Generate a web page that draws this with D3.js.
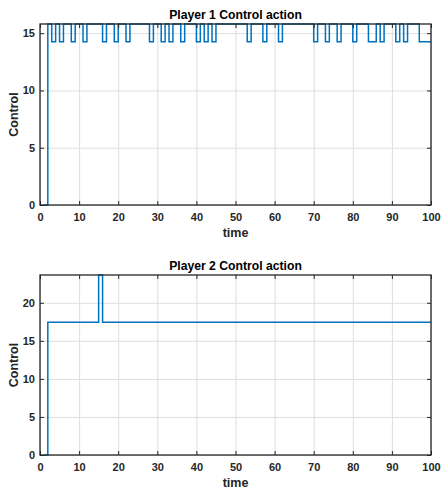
<!DOCTYPE html>
<html>
<head>
<meta charset="utf-8">
<script src="https://cdn.jsdelivr.net/npm/d3@7"></script>
<style>
  body { margin: 0; background: #fff; }
  text { font-family: "Liberation Sans", Arial, Helvetica, sans-serif; font-weight: bold; }
</style>
</head>
<body>
<div id="chart"></div>
<script>
// step data: each value holds from its time until the next time
const hi = 15.8, lo = 14.25
const p1Times  = [1, 2, 3, 4, 5, 6, 8, 9, 11, 12, 16, 17, 19, 20, 22, 23, 28, 29, 31, 32, 33, 34, 36, 37, 40, 41, 42, 43, 44, 45,
                  53, 54, 57, 58, 61, 62, 70, 71, 73, 74, 76, 77, 80, 81, 84, 86, 87, 88, 91, 92, 93, 94, 97, 100]
const p1Values = [0, hi, lo, hi, lo, hi, lo, hi, lo, hi, lo, hi, lo, hi, lo, hi, lo, hi, lo, hi, lo, hi, lo, hi, lo, hi, lo, hi, lo, hi,
                  lo, hi, lo, hi, lo, hi, lo, hi, lo, hi, lo, hi, lo, hi, lo, hi, lo, hi, lo, hi, lo, hi, lo, lo]

const p2Times  = [1, 2, 15, 16, 100]
const p2Values = [0, 17.45, 23.65, 17.45, 17.45]

const xTicks = [0, 10, 20, 30, 40, 50, 60, 70, 80, 90, 100]
const p1YTicks = [0, 5, 10, 15]
const p2YTicks = [0, 5, 10, 15, 20]

const svgWidth = 441, svgHeight = 489
const margin = {left: 40, right: 10}
const width = svgWidth - margin.left - margin.right

const svg = d3.select('#chart')
    .append('svg')
    .attr('width', svgWidth)
    .attr('height', svgHeight)

const lineColor = '#0072BD'
const axisColor = '#262626'
const gridColor = '#dedede'

function drawPanel(top, height, times, values, yTicks, title) {
    let data = times.map((t, i) => [t, values[i]])

    let g = svg.append('g')
        .attr('transform', `translate(${margin.left},${top})`)

    let xScale = d3.scaleLinear().domain([0, 100]).range([0, width])
    let yScale = d3.scaleLinear().domain([0, d3.max(values)]).range([height, 0])

    // grid
    let grid = g.append('g')
    grid.append('g')
        .attr('transform', `translate(0,${height})`)
        .call(d3.axisBottom(xScale).tickValues(xTicks).tickSize(-height).tickFormat(''))
    grid.append('g')
        .call(d3.axisLeft(yScale).tickValues(yTicks).tickSize(-width).tickFormat(''))
    grid.selectAll('.domain').remove()
    grid.selectAll('line').attr('stroke', gridColor)

    // stairs
    let line = d3.line()
        .x(d => xScale(d[0]))
        .y(d => yScale(d[1]))
        .curve(d3.curveStepAfter)

    g.append('path')
        .datum(data)
        .attr('d', line)
        .attr('fill', 'none')
        .attr('stroke', lineColor)
        .attr('stroke-width', 1.5)

    // axes with inward ticks on all four sides
    let axes = g.append('g')
    axes.append('g')
        .attr('transform', `translate(0,${height})`)
        .call(d3.axisBottom(xScale).tickValues(xTicks).tickSize(-4).tickPadding(8))
    axes.append('g')
        .call(d3.axisTop(xScale).tickValues(xTicks).tickSize(-4).tickFormat(''))
    axes.append('g')
        .call(d3.axisLeft(yScale).tickValues(yTicks).tickSize(-4).tickPadding(5))
    axes.append('g')
        .attr('transform', `translate(${width},0)`)
        .call(d3.axisRight(yScale).tickValues(yTicks).tickSize(-4).tickFormat(''))

    axes.selectAll('.domain').remove()
    axes.selectAll('.tick line').attr('stroke', axisColor)
    axes.selectAll('.tick text')
        .attr('font-size', 11)
        .attr('font-family', '"Liberation Sans", Arial, sans-serif')
        .attr('font-weight', 'bold')
        .attr('fill', axisColor)

    axes.append('rect')
        .attr('width', width)
        .attr('height', height)
        .attr('fill', 'none')
        .attr('stroke', axisColor)
        .attr('stroke-width', 1.3)

    g.append('text')
        .text(title)
        .attr('x', width / 2)
        .attr('y', -5)
        .attr('text-anchor', 'middle')
        .attr('font-size', 12.2)
        .attr('fill', '#000')

    g.append('text')
        .text('time')
        .attr('x', width / 2)
        .attr('y', height + 31.5)
        .attr('text-anchor', 'middle')
        .attr('font-size', 12.5)
        .attr('fill', axisColor)

    g.append('text')
        .text('Control')
        .attr('transform', `translate(-22,${height / 2}) rotate(-90)`)
        .attr('text-anchor', 'middle')
        .attr('font-size', 12.5)
        .attr('fill', axisColor)
}

drawPanel(24, 181, p1Times, p1Values, p1YTicks, 'Player 1 Control action')
drawPanel(275, 180, p2Times, p2Values, p2YTicks, 'Player 2 Control action')
</script>
</body>
</html>
